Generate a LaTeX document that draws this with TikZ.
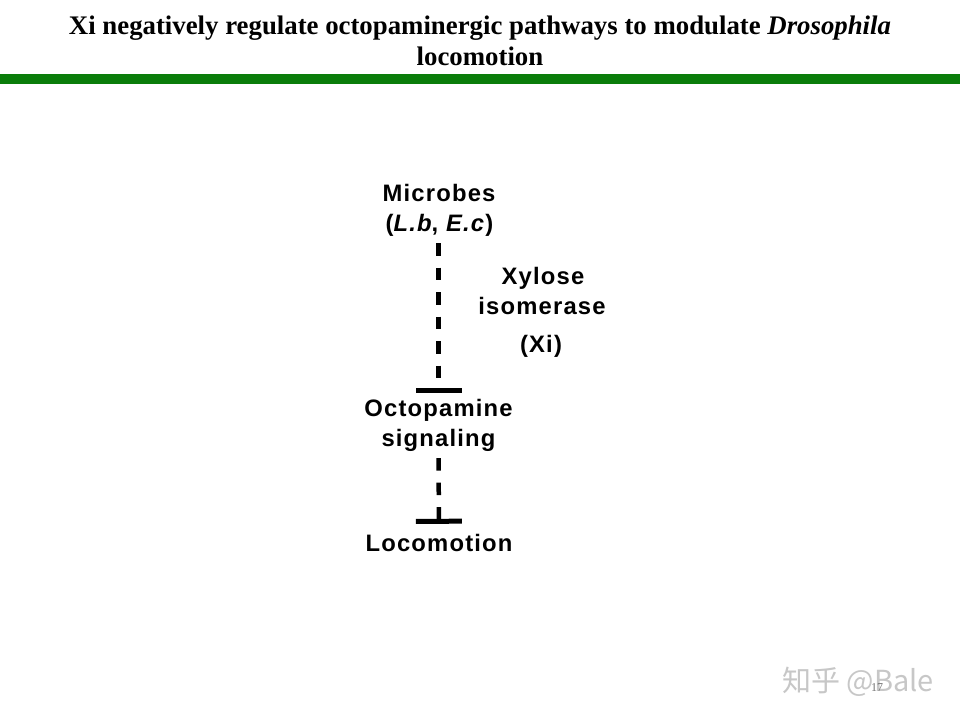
\documentclass[tikz,border=0pt]{standalone}
\usepackage{fontspec}
\setmainfont{Liberation Serif}
\setsansfont{Liberation Sans}[LetterSpace=5]
\newfontfamily\cjk{Noto Sans CJK SC}
\usetikzlibrary{arrows.meta}
\definecolor{bargreen}{RGB}{10,125,10}
\begin{document}
\begin{tikzpicture}[x=1pt,y=-1pt,
  lbl/.style={font=\sffamily\bfseries\fontsize{23.8}{27}\selectfont, inner sep=0pt, text height=17pt, text depth=5pt, anchor=base},
  inh/.style={line width=4.5pt, dash pattern=on 12.5pt off 12pt,
     -{Bar[width=46pt,line width=5pt,length=0pt]}},
  ttl/.style={font=\rmfamily\bfseries\fontsize{26.8}{31}\selectfont, inner sep=0pt, anchor=base}
]
\useasboundingbox (0,0) rectangle (960,720);
\fill[white] (0,0) rectangle (960,720);
\node[ttl] (title1) at (480,34) {Xi negatively regulate octopaminergic pathways to modulate \textit{Drosophila}};
\node[ttl] (title2) at (480,65) {locomotion};
\fill[bargreen] (0,74) rectangle (960,84);
\node[lbl] (micro1) at (439,201.7) {Microbes};
\node[lbl] (micro2) at (439.5,231.5) {(\textit{L.b}, \textit{E.c})};
\node[lbl] (octo1) at (438.5,416.5) {Octopamine};
\node[lbl] (octo2) at (438.5,446) {signaling};
\node[lbl] (loco) at (439,551.5) {Locomotion};
\node[lbl] (xi1) at (543,284) {Xylose};
\node[lbl] (xi2) at (542,314) {isomerase};
\node[lbl] (xi3) at (541,352) {(Xi)};
\draw[inh, shorten <=6.5pt, shorten >=6.5pt] (micro2.south -| octo1.north) -- (octo1.north);
\draw[inh, shorten <=7pt, shorten >=10.5pt] (octo2.south) -- (loco.north);
\node[font=\cjk\fontsize{29}{29}\selectfont, text=black!22, inner sep=0pt] (wm) at (858,682) {知乎 @Bale};
\node[font=\rmfamily\fontsize{12}{12}\selectfont, text=black!55, inner sep=0pt] (pg) at (877,688) {17};
\end{tikzpicture}
\end{document}
